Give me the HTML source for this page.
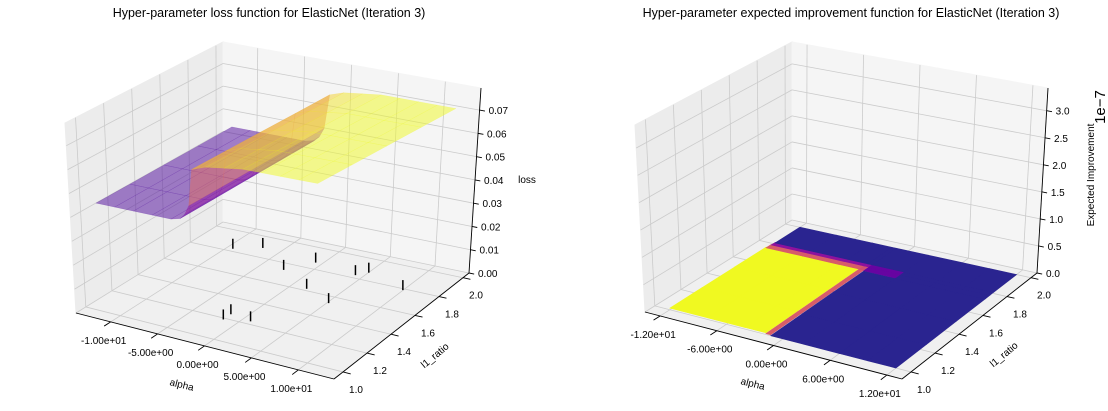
<!DOCTYPE html>
<html><head><meta charset="utf-8"><style>
html,body{margin:0;padding:0;background:#fff;}
svg{display:block;font-family:"Liberation Sans","DejaVu Sans",sans-serif;}
</style></head><body>
<svg id="fig" width="1108" height="411" viewBox="0 0 1108 411">
<text x="269" y="17" font-size="12.5" text-anchor="middle">Hyper-parameter loss function for ElasticNet (Iteration 3)</text>
<text x="851" y="17" font-size="12.5" text-anchor="middle">Hyper-parameter expected improvement function for ElasticNet (Iteration 3)</text>
<g id="left"></g>
<g id="right"></g>
</svg>
<script>
// ---- data: left chart ----
const lossAlphaTicks = [-10, -5, 0, 5, 10];
const lossAlphaLabels = ["-1.00e+01", "-5.00e+00", "0.00e+00", "5.00e+00", "1.00e+01"];
const l1Ticks = [1.0, 1.2, 1.4, 1.6, 1.8, 2.0];
const l1Labels = ["1.0", "1.2", "1.4", "1.6", "1.8", "2.0"];
const lossZTicks = [0, 0.01, 0.02, 0.03, 0.04, 0.05, 0.06, 0.07];
const lossZLabels = ["0.00", "0.01", "0.02", "0.03", "0.04", "0.05", "0.06", "0.07"];
const lossAlphaPts = [-12, -10, -8, -6, -4, -3, -2.5, -2, -1.5, 0, 2, 4, 6, 8, 10, 12];
const lossValues = [0.045, 0.045, 0.045, 0.045, 0.045, 0.046, 0.048, 0.052, 0.067, 0.069, 0.070, 0.071, 0.071, 0.071, 0.071, 0.071];
const sampleAlpha = [-10.0, -7.6, -1.3, -3.1, 3.6, 4.45, 9.4, 1.1, 4.6, -2.1, -2.1, 0.3];
const sampleL1 = [1.87, 1.935, 1.905, 1.78, 1.87, 1.916, 1.83, 1.66, 1.58, 1.23, 1.29, 1.27];
// ---- data: right chart ----
const eiAlphaTicks = [-12, -6, 0, 6, 12];
const eiAlphaLabels = ["-1.20e+01", "-6.00e+00", "0.00e+00", "6.00e+00", "1.20e+01"];
const eiZTicks = [0, 0.5, 1.0, 1.5, 2.0, 2.5, 3.0];
const eiZLabels = ["0.0", "0.5", "1.0", "1.5", "2.0", "2.5", "3.0"];
const eiAlphaEdges = [-12, -8, -4, -1.8, -1.3, 2.2, 6, 9, 12];
const eiL1Edges = [1.0, 1.25, 1.5, 1.74, 1.78, 1.81, 2.0];
const eiValues = [
  [0.030, 0.030, 0.030, 0.017, 0, 0, 0, 0],
  [0.030, 0.030, 0.030, 0.017, 0, 0, 0, 0],
  [0.030, 0.030, 0.030, 0.017, 0, 0, 0, 0],
  [0.017, 0.017, 0.017, 0.016, 0.006, 0, 0, 0],
  [0.009, 0.009, 0.009, 0.009, 0.006, 0, 0, 0],
  [0, 0, 0, 0, 0, 0, 0, 0]
];

const NS = "http://www.w3.org/2000/svg";
function el(tag, parent, attrs) {
  const e = document.createElementNS(NS, tag);
  for (const k in attrs) e.setAttribute(k, attrs[k]);
  parent.appendChild(e);
  return e;
}
const PL = [[0,[13,8,135]],[0.25,[126,3,168]],[0.5,[204,71,120]],[0.75,[248,149,64]],[1,[240,249,33]]];
function plasma(t) {
  t = Math.max(0, Math.min(1, t));
  for (let i = 0; i < PL.length - 1; i++) {
    if (t <= PL[i+1][0]) {
      const f = (t - PL[i][0]) / (PL[i+1][0] - PL[i][0]);
      const a = PL[i][1], b = PL[i+1][1];
      return "rgb(" + a.map((v, j) => Math.round(v + (b[j] - v) * f)).join(",") + ")";
    }
  }
  return "rgb(240,249,33)";
}
function makeProj(C, ar, lr, zr) {
  return function (a, l, z) {
    const u = (a - ar[0]) / (ar[1] - ar[0]), v = (l - lr[0]) / (lr[1] - lr[0]), w = (z - zr[0]) / (zr[1] - zr[0]);
    let x = 0, y = 0;
    for (const ai of [0, 1]) for (const li of [0, 1]) for (const zi of [0, 1]) {
      const wt = (ai ? u : 1 - u) * (li ? v : 1 - v) * (zi ? w : 1 - w);
      const p = C["" + ai + li + zi];
      x += wt * p[0]; y += wt * p[1];
    }
    return [x, y];
  };
}
function ptsStr(arr) { return arr.map(p => p[0].toFixed(1) + "," + p[1].toFixed(1)).join(" "); }

function drawAxes(g, P, ar, lr, zr, aT, aL, zT, zL) {
  const [a0, a1] = ar, [l0, l1] = lr, [z0, z1] = zr;
  const floor = el("polygon", g, {points: ptsStr([P(a0,l0,z0),P(a1,l0,z0),P(a1,l1,z0),P(a0,l1,z0)]), fill: "#f0f0f0", stroke: "#f0f0f0"});
  
  
  const wl = el("polygon", g, {points: ptsStr([P(a0,l0,z0),P(a0,l1,z0),P(a0,l1,z1),P(a0,l0,z1)]), fill: "#ececec", stroke: "#ececec"});
  
  
  const wb = el("polygon", g, {points: ptsStr([P(a0,l1,z0),P(a1,l1,z0),P(a1,l1,z1),P(a0,l1,z1)]), fill: "#f5f5f5", stroke: "#f5f5f5"});
  
  
  const gs = {stroke: "#cbcbcb", "stroke-width": 0.8, fill: "none"};
  function line(p, q, attrs) { return el("line", g, Object.assign({x1: p[0], y1: p[1], x2: q[0], y2: q[1]}, attrs)); }
  aT.forEach(a => {
    const g1 = line(P(a,l0,z0), P(a,l1,z0), gs);
    
    
    line(P(a,l1,z0), P(a,l1,z1), gs);
  });
  l1Ticks.forEach(l => {
    const g2 = line(P(a0,l,z0), P(a1,l,z0), gs);
    
    
    line(P(a0,l,z0), P(a0,l,z1), gs);
  });
  zT.forEach(z => {
    const g3 = line(P(a0,l0,z), P(a0,l1,z), gs);
    
    
    line(P(a0,l1,z), P(a1,l1,z), gs);
  });
  const ax = {stroke: "#000", "stroke-width": 0.9};
  const xa = line(P(a0,l0,z0), P(a1,l0,z0), ax);
  
  
  const ya = line(P(a1,l0,z0), P(a1,l1,z0), ax);
  
  
  const za = line(P(a1,l1,z0), P(a1,l1,z1), ax);
  
  
  const dl = (l1 - l0) * 0.045, da = (a1 - a0) * 0.03;
  aT.forEach((a, i) => {
    const p = P(a,l0,z0);
    line(p, P(a, l0 - dl, z0), ax);
    const t = el("text", g, {x: p[0] - 7, y: p[1] + 22, "font-size": 10, "text-anchor": "middle"});
    t.textContent = aL[i];
    
    
  });
  l1Ticks.forEach((l, i) => {
    const p = P(a1,l,z0);
    line(p, P(a1 + da, l, z0), ax);
    const t = el("text", g, {x: p[0] + 13, y: p[1] + 21, "font-size": 10, "text-anchor": "middle"});
    t.textContent = l1Labels[i];
    
    
  });
  zT.forEach((z, i) => {
    const p = P(a1,l1,z);
    line(p, P(a1 + da * 0.7, l1, z), ax);
    const t = el("text", g, {x: p[0] + 9, y: p[1] + 4, "font-size": 10});
    t.textContent = zL[i];
    
    
  });
}
function axisTitles(g, items) {
  items.forEach(it => {
    const t = el("text", g, {x: it[1], y: it[2], "font-size": it[4] || 10, "text-anchor": "middle", transform: "rotate(" + it[3] + " " + it[1] + " " + it[2] + ")"});
    t.textContent = it[0];
    
    
  });
}

// ---------- LEFT ----------
(function () {
  const g = document.getElementById("left");
  const C = {"000": [76,313], "100": [334,379], "110": [469,273], "010": [223,222],
             "001": [65,123], "101": [323,170], "111": [481,88], "011": [223,42]};
  const ar = [-13.7, 13.8], lr = [0.925, 2.05], zr = [0, 0.0795];
  const P = makeProj(C, ar, lr, zr);
  drawAxes(g, P, ar, lr, zr, lossAlphaTicks, lossAlphaLabels, lossZTicks, lossZLabels);
  sampleAlpha.forEach((a, i) => {
    const p = P(a, sampleL1[i], 0);
    const m = el("line", g, {x1: p[0], y1: p[1] - 5, x2: p[0], y2: p[1] + 5, stroke: "#000", "stroke-width": 1.5});
    
    
  });
  const zmin = Math.min(...lossValues), zmax = Math.max(...lossValues);
  const lSteps = [1.0, 1.25, 1.5, 1.75, 2.0];
  const cells = [];
  for (let j = 0; j < lSteps.length - 1; j++)
    for (let i = 0; i < lossAlphaPts.length - 1; i++) {
      const a0 = lossAlphaPts[i], a1 = lossAlphaPts[i+1], la = lSteps[j], lb = lSteps[j+1];
      const z0 = lossValues[i], z1 = lossValues[i+1];
      const depth = ((la + lb) / 2 - 1) - ((a0 + a1) / 2 + 12) / 24;
      const t = ((z0 + z1) / 2 - zmin) / (zmax - zmin);
      cells.push({depth, pts: [P(a0,la,z0), P(a1,la,z1), P(a1,lb,z1), P(a0,lb,z0)], c: plasma(0.14 + 0.86 * t)});
    }
  cells.sort((x, y) => y.depth - x.depth);
  cells.forEach(c => {
    const poly = el("polygon", g, {points: ptsStr(c.pts), fill: c.c, "fill-opacity": 0.5, stroke: c.c, "stroke-opacity": 0.3, "stroke-width": 0.4});
    
    
  });
  axisTitles(g, [["alpha", 181, 388, 14, 10, "alpha-axis-title"], ["l1_ratio", 437, 358, -40, 10, "l1-ratio-axis-title"], ["loss", 527, 183, 0, 10, "loss-axis-title"]]);
})();

// ---------- RIGHT ----------
(function () {
  const g = document.getElementById("right");
  const C = {"000": [645,312], "100": [902,379], "110": [1037,273], "010": [792,220],
             "001": [635,125], "101": [891,171], "111": [1048,88], "011": [792,42]};
  const ar = [-13.6, 13.6], lr = [0.925, 2.05], zr = [0, 3.42];
  const P = makeProj(C, ar, lr, zr);
  drawAxes(g, P, ar, lr, zr, eiAlphaTicks, eiAlphaLabels, eiZTicks, eiZLabels);
  let vmax = 0;
  eiValues.forEach(r => r.forEach(v => { if (v > vmax) vmax = v; }));
  const cells = [];
  for (let j = 0; j < eiL1Edges.length - 1; j++)
    for (let i = 0; i < eiAlphaEdges.length - 1; i++) {
      const a0 = eiAlphaEdges[i], a1 = eiAlphaEdges[i+1], la = eiL1Edges[j], lb = eiL1Edges[j+1];
      const v = eiValues[j][i];
      const col = v === 0 ? "#2a2490" : plasma(v / vmax);
      cells.push({pts: [P(a0,la,v), P(a1,la,v), P(a1,lb,v), P(a0,lb,v)], c: col});
    }
  cells.forEach(c => {
    const poly = el("polygon", g, {points: ptsStr(c.pts), fill: c.c, stroke: c.c, "stroke-width": 0.6});
    
    
  });
  axisTitles(g, [["alpha", 752, 387, 14, 10, "alpha-axis-title"], ["l1_ratio", 1006, 357, -40, 10, "l1-ratio-axis-title"],
    ["Expected Improvement", 1094, 175, -90, 10, "ei-axis-title"], ["1e\u22127", 1105, 107, -90, 15, "ei-offset-label"]]);
})();
</script>
</body></html>
